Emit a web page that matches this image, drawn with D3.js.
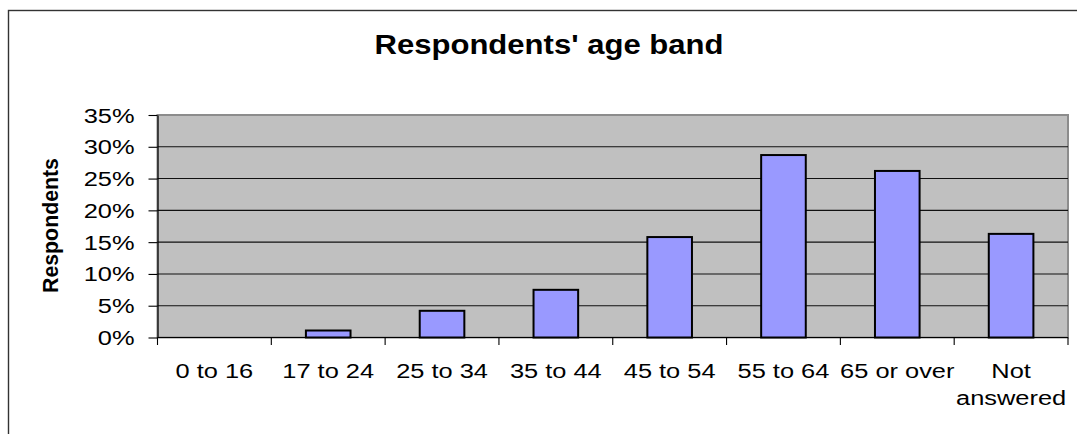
<!DOCTYPE html>
<html><head><meta charset="utf-8">
<script src="https://cdn.jsdelivr.net/npm/d3@7"></script>
<style>
body{margin:0;background:#fff}
svg{display:block}
text{font-family:"Liberation Sans",Arial,Helvetica,sans-serif;fill:#000}
</style></head>
<body><svg id="c" width="1077" height="434"></svg>
<script>
// ---- data ----
const categories = ["0 to 16","17 to 24","25 to 34","35 to 44","45 to 54","55 to 64","65 or over","Not answered"];
const values = [0, 1.1, 4.2, 7.5, 15.8, 28.7, 26.2, 16.3];   // percent of respondents
const yTicks = [0, 5, 10, 15, 20, 25, 30, 35];
const tickLabels = [["0 to 16"],["17 to 24"],["25 to 34"],["35 to 44"],["45 to 54"],["55 to 64"],["65 or over"],["Not","answered"]];
const chartTitle = "Respondents' age band";
const yAxisTitle = "Respondents";

// ---- layout ----
const svg = d3.select("#c");
const plot = {left:157.5, right:1068, top:115, bottom:337.5};
const sx = 1.27;      // horizontal glyph stretch of the reference rendering

const x = d3.scaleBand().domain(categories).range([plot.left, plot.right]).paddingInner(0).paddingOuter(0);
const y = d3.scaleLinear().domain([0, 35]).range([plot.bottom, plot.top]);

// outer frame (right / bottom edges lie outside the picture)
svg.append("rect").attr("x",8.5).attr("y",10.5).attr("width",1100).attr("height",460)
  .attr("fill","#fff").attr("stroke","#333").attr("stroke-width",1.4);

// title
svg.append("g").attr("transform",`translate(549,53.5) scale(1.13,1)`)
  .append("text").attr("text-anchor","middle").attr("font-weight","bold")
  .attr("font-size",27.5).text(chartTitle);

// plot background
svg.append("rect").attr("x",plot.left).attr("y",plot.top)
  .attr("width",plot.right-plot.left).attr("height",plot.bottom-plot.top)
  .attr("fill","#c0c0c0").attr("stroke","#8c8c8c").attr("stroke-width",2);

// gridlines
svg.append("g").selectAll("line").data(yTicks.filter(t=>t>0 && t<35)).join("line")
  .attr("x1",plot.left).attr("x2",plot.right)
  .attr("y1",d=>y(d)).attr("y2",d=>y(d))
  .attr("stroke","#111").attr("stroke-width",1.1);

// bars
const barW = x.bandwidth()*0.392;
svg.append("g").selectAll("rect").data(values).join("rect")
  .attr("x",(d,i)=>x(categories[i]) + (x.bandwidth()-barW)/2)
  .attr("width",barW)
  .attr("y",d=>y(d))
  .attr("height",d=>Math.max(0, y(0)-y(d)))
  .attr("fill",d=>d>0?"#9999ff":"none")
  .attr("stroke",d=>d>0?"#000":"none")
  .attr("stroke-width",2);

// y axis
const yAxis = svg.append("g").attr("transform",`translate(${plot.left},0)`)
  .call(d3.axisLeft(y).tickValues(yTicks).tickSize(9).tickSizeOuter(0).tickFormat(d=>d+"%"));
yAxis.select(".domain").attr("stroke","#000").attr("stroke-width",1.2);
yAxis.selectAll(".tick line").attr("stroke","#000").attr("stroke-width",1.1);
yAxis.selectAll(".tick text")
  .attr("x",0).attr("dy",null).attr("font-size",20).attr("font-family",null)
  .attr("text-anchor","end")
  .attr("transform",`translate(-23,7) scale(${sx},1)`);
yAxis.attr("font-family",null).attr("font-size",null);

// x axis: ticks at band boundaries
const bounds = categories.map(c=>x(c)).concat([plot.right]);
svg.append("line").attr("x1",plot.left).attr("x2",plot.right)
  .attr("y1",plot.bottom).attr("y2",plot.bottom).attr("stroke","#000").attr("stroke-width",1.2);
svg.append("g").selectAll("line").data(bounds).join("line")
  .attr("x1",d=>d).attr("x2",d=>d).attr("y1",plot.bottom).attr("y2",plot.bottom+7.5)
  .attr("stroke","#000").attr("stroke-width",1.1);

// x tick labels
const xl = svg.append("g").selectAll("g").data(categories).join("g")
  .attr("transform",(d,i)=>`translate(${x(d)+x.bandwidth()/2},377.5) scale(${sx},1)`);
xl.each(function(d,i){
  const g = d3.select(this);
  tickLabels[i].forEach((line,k)=>{
    g.append("text").attr("text-anchor","middle").attr("font-size",20)
      .attr("y",k*28).text(line);
  });
});

// y axis title
svg.append("text").attr("transform","translate(57.5,225.5) rotate(-90)")
  .attr("text-anchor","middle").attr("font-weight","bold").attr("font-size",21.3)
  .text(yAxisTitle);
</script>
</body></html>
